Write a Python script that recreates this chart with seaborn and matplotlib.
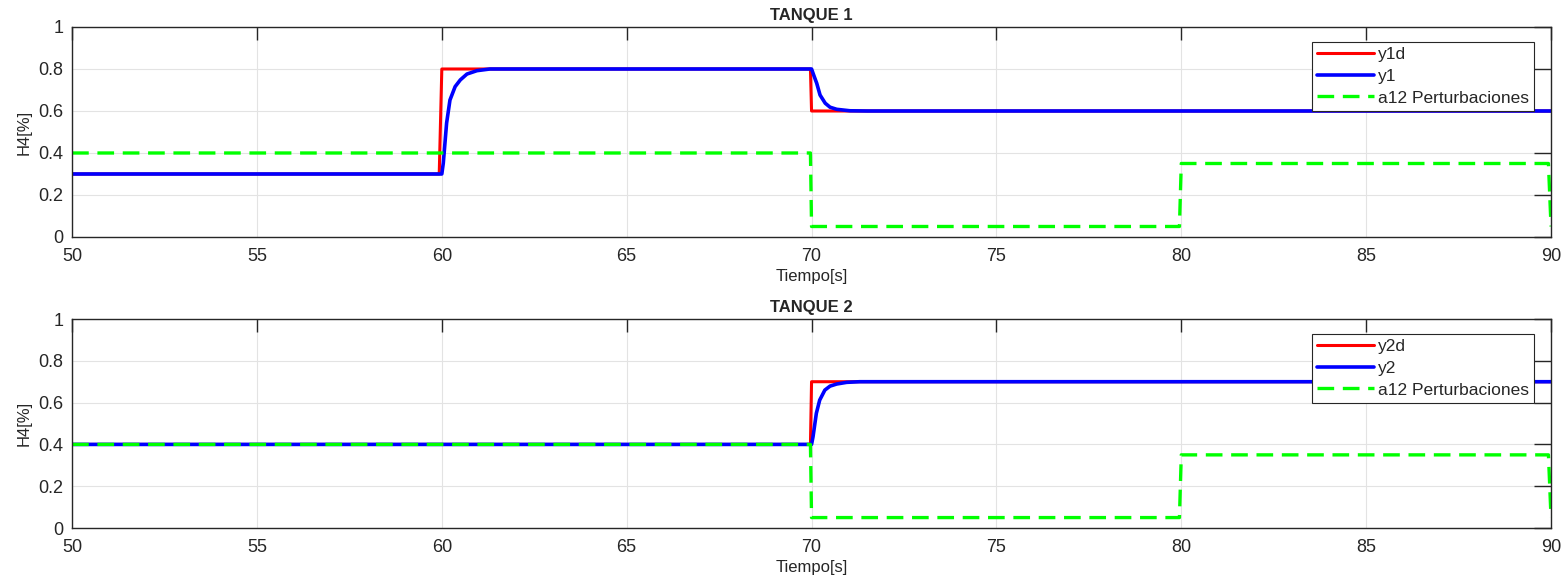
import pandas as pd
import seaborn as sns
import matplotlib.pyplot as plt

# ---- Tanque 1 ----
t_y1d = [50, 59.93, 60, 69.97, 70, 90]
y1d = [0.3, 0.3, 0.8, 0.8, 0.6, 0.6]

t_y1 = [50, 60, 60.04, 60.13, 60.22, 60.36, 60.5, 60.68, 60.95, 61.3,
        70, 70.05, 70.14, 70.23, 70.37, 70.5, 70.68, 71.04, 71.5, 90]
y1 = [0.3, 0.3, 0.352, 0.543, 0.652, 0.716, 0.748, 0.776, 0.792, 0.8,
      0.8, 0.775, 0.732, 0.676, 0.637, 0.618, 0.608, 0.601, 0.6, 0.6]

# ---- Tanque 2 ----
t_y2d = [50, 69.97, 70, 90]
y2d = [0.4, 0.4, 0.7, 0.7]

t_y2 = [50, 70, 70.04, 70.13, 70.22, 70.36, 70.5, 70.68, 70.95, 71.3, 90]
y2 = [0.4, 0.4, 0.437, 0.549, 0.612, 0.66, 0.679, 0.689, 0.697, 0.7, 0.7]

# disturbance a12 (same in both tanks)
t_a12 = [50, 69.97, 70, 79.95, 80, 89.93, 90]
a12 = [0.4, 0.4, 0.05, 0.05, 0.35, 0.35, 0.05]

titles = ['TANQUE 1', 'TANQUE 2']
labels = [['y1d', 'y1', 'a12 Perturbaciones'], ['y2d', 'y2', 'a12 Perturbaciones']]

sns.set_theme(style='whitegrid')
plt.rcParams['font.family'] = ['Liberation Sans', 'DejaVu Sans']

fig = plt.figure(figsize=(15.67, 5.83), dpi=100)
ax1 = fig.add_axes([0.046, 0.5935, 0.9438, 0.3602])
ax2 = fig.add_axes([0.046, 0.0943, 0.9438, 0.3585])

series = [(t_y1d, y1d, t_y1, y1), (t_y2d, y2d, t_y2, y2)]

for ax, (td, yd, tr, yr), title, lab in zip([ax1, ax2], series, titles, labels):
    ref = pd.DataFrame({'t': td, 'v': yd})
    out = pd.DataFrame({'t': tr, 'v': yr})
    dist = pd.DataFrame({'t': t_a12, 'v': a12})
    sns.lineplot(data=ref, x='t', y='v', ax=ax, color='#ff0000', lw=2.2,
                 estimator=None, label=lab[0])
    sns.lineplot(data=out, x='t', y='v', ax=ax, color='#0000ff', lw=2.6,
                 estimator=None, label=lab[1])
    sns.lineplot(data=dist, x='t', y='v', ax=ax, color='#00ff00', lw=2.4,
                 estimator=None, label=lab[2], dashes=False, linestyle=(0, (5, 2.6)))

    ax.set_xlim(50, 90)
    ax.set_ylim(0, 1)
    ax.set_xticks(range(50, 91, 5))
    ax.set_yticks([0, 0.2, 0.4, 0.6, 0.8, 1])
    ax.set_yticklabels(['0', '0.2', '0.4', '0.6', '0.8', '1'])
    ax.set_title(title, fontsize=12, fontweight='bold', pad=5)
    ax.set_xlabel('Tiempo[s]', fontsize=12, labelpad=3, color='#262626')
    ax.set_ylabel('H4[%]', fontsize=12, labelpad=5, color='#262626')
    ax.set_facecolor('white')
    ax.grid(True, color='#e3e3e3', lw=0.8)
    for sp in ax.spines.values():
        sp.set_color('#262626')
        sp.set_linewidth(1.0)
    ax.tick_params(axis='both', direction='in', top=True, right=True,
                   labelsize=13, colors='#262626', width=1.0)
    ax.tick_params(axis='y', length=12, pad=6)
    ax.tick_params(axis='x', length=9.5, pad=8)
    leg = ax.legend(loc='upper right', bbox_to_anchor=(0.9885, 0.93), fontsize=12.5,
                    frameon=True, fancybox=False, handlelength=3.3, handletextpad=0.2,
                    borderpad=0.3, labelspacing=0.38, borderaxespad=0)
    leg.get_frame().set_edgecolor('#262626')
    leg.get_frame().set_linewidth(0.8)
    leg.get_frame().set_alpha(1)

fig.savefig('out.png', dpi=100)
